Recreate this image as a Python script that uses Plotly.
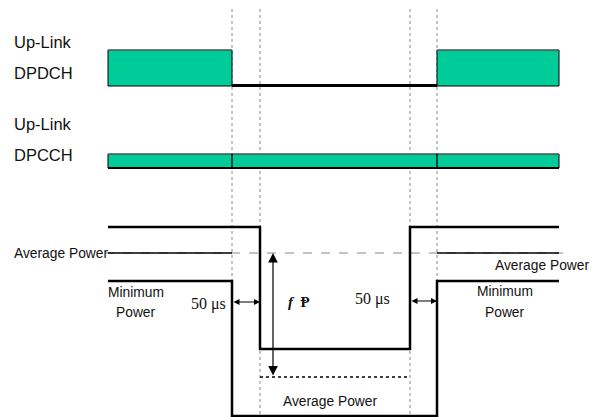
import plotly.graph_objects as go

# ---- diagram data (axis units = drawing units) ----
t_start, t_off, t_ramp_dn, t_ramp_up, t_on, t_end = 108, 232, 260, 410, 437, 559
guide_x = [t_off, t_ramp_dn, t_ramp_up, t_on]

dpdch_levels = [50, 86]          # top, bottom of DPDCH boxes
dpdch_off_level = 85.5
dpcch_levels = [154, 168]        # top, bottom of DPCCH bar

p_high, p_avg, p_min, p_low, p_avg_low, p_floor = 227, 253, 281, 349, 377, 416
upper_x = [t_start, t_ramp_dn, t_ramp_dn, t_ramp_up, t_ramp_up, t_end]
upper_y = [p_high, p_high, p_low, p_low, p_high, p_high]
lower_x = [t_start, t_off, t_off, t_on, t_on, t_end]
lower_y = [p_min, p_min, p_floor, p_floor, p_min, p_min]

GREEN = "#00CC99"
SANS = "Liberation Sans, Arial, sans-serif"
SERIF = "Liberation Serif, Times New Roman, DejaVu Serif, serif"

PAGE_OFFSET = 8  # browser body margin

fig = go.Figure()

def line(x, y, width=1.0, color="black", dash="solid"):
    fig.add_trace(go.Scatter(x=x, y=y, mode="lines", hoverinfo="skip",
                             line=dict(color=color, width=width, dash=dash),
                             showlegend=False))

def box(x0, x1, y0, y1):
    fig.add_trace(go.Scatter(x=[x0, x1, x1, x0, x0], y=[y0, y0, y1, y1, y0],
                             mode="lines", fill="toself", fillcolor=GREEN,
                             line=dict(color="black", width=1), hoverinfo="skip",
                             showlegend=False))

# vertical guide lines
for gx in guide_x:
    line([gx, gx], [9, 430], width=1, color="#888888", dash="dot")

# DPDCH
box(t_start, t_off, dpdch_levels[0], dpdch_levels[1])
box(t_on, t_end, dpdch_levels[0], dpdch_levels[1])
line([t_off, t_on], [dpdch_off_level, dpdch_off_level], width=3)
line([t_start, t_off], [dpdch_levels[0]] * 2, width=1, color="#777777")
line([t_on, t_end], [dpdch_levels[0]] * 2, width=1, color="#777777")

# DPCCH
box(t_start, t_end, dpcch_levels[0], dpcch_levels[1])
line([t_start, t_end], [dpcch_levels[0]] * 2, width=1, color="#777777")
line([t_start, t_end], [dpcch_levels[1]] * 2, width=2)
for dx in [t_off, t_on]:
    line([dx, dx], dpcch_levels, width=1.3)

# power diagram
line([105, 563], [p_avg, p_avg], width=1, color="#888888", dash="dash")
line([t_start, t_off], [p_avg, p_avg], width=1.5)
line([t_on, t_end], [p_avg, p_avg], width=1.5)
line(upper_x, upper_y, width=2.5)
line(lower_x, lower_y, width=2.5)
line([t_ramp_dn, t_ramp_up], [p_avg_low, p_avg_low], width=1.5, dash="dot")

annotations = []

def arrow(x0, y0, x1, y1, size=1.0, width=1.2):
    annotations.append(dict(x=x1, y=y1, ax=x0, ay=y0, xref="x", yref="y",
                            axref="x", ayref="y", text="", showarrow=True,
                            arrowhead=2, arrowside="end+start",
                            arrowsize=size, arrowwidth=width, arrowcolor="black"))

arrow(273, p_avg_low, 273, p_avg, size=1.6, width=1.2)
arrow(t_off, 302, t_ramp_dn, 302, size=1.0, width=1.2)
arrow(t_ramp_up, 301, t_on, 301, size=1.0, width=1.2)

def text(x, y, s, size=13.5, anchor="left", font=SANS):
    annotations.append(dict(x=x, y=y, xref="x", yref="y", text=s, showarrow=False,
                            xanchor=anchor, yanchor="middle",
                            font=dict(family=font, size=size, color="#111111")))

text(12, 42, "Up-Link", size=16.5)
text(12, 73, "DPDCH", size=16.5)
text(12, 124, "Up-Link", size=16.5)
text(12, 155, "DPCCH", size=16.5)

text(12, 253, "Average Power", size=13.8)
text(136, 292, "Minimum", anchor="center", size=13.8)
text(136, 312, "Power", anchor="center", size=13.8)
text(591, 265, "Average Power", anchor="right", size=13.8)
text(505, 291, "Minimum", anchor="center", size=13.8)
text(505, 312, "Power", anchor="center", size=13.8)
text(330, 401, "Average Power", anchor="center", size=13.8)

text(208, 304, "50 μs", size=16, anchor="center", font=SERIF)
text(372, 299, "50 μs", size=16, anchor="center", font=SERIF)
text(299, 302, "<b><i>f</i></b>  <b>Ᵽ</b>", size=15, anchor="center", font=SERIF)

fig.update_layout(
    width=600, height=417,
    margin=dict(l=0, r=0, t=0, b=0),
    paper_bgcolor="white", plot_bgcolor="white",
    xaxis=dict(range=[PAGE_OFFSET, 600 + PAGE_OFFSET], visible=False, fixedrange=True),
    yaxis=dict(range=[417 + PAGE_OFFSET, PAGE_OFFSET], visible=False, fixedrange=True),
    annotations=annotations,
    showlegend=False,
)

fig.write_html("out.html")
